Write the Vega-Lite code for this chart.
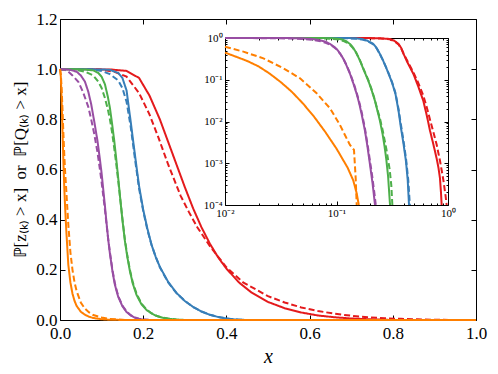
{
"$schema": "https://vega.github.io/schema/vega-lite/v6.json",
"width": 416, "height": 301,
"autosize": {"type": "none"},
"padding": {"left": 60, "top": 19, "right": 22, "bottom": 54},
"background": "white",
"config": {"font": "Liberation Serif", "view": {"stroke": null}, "axis": {"grid": false, "domainColor": "black", "tickColor": "black", "labelColor": "black", "titleColor": "black", "labelFont": "Liberation Serif", "titleFont": "Liberation Serif", "titleFontWeight": "normal", "labelFlush": false, "labelOverlap": false, "domainWidth": 1, "tickWidth": 1}},
"datasets": {
"main": [
{"series":"A","kind":"theory","x":0,"p":1},{"series":"A","kind":"theory","x":0.12,"p":0.999},{"series":"A","kind":"theory","x":0.16,"p":0.993},{"series":"A","kind":"theory","x":0.19,"p":0.965},{"series":"A","kind":"theory","x":0.215,"p":0.895},{"series":"A","kind":"theory","x":0.24,"p":0.8},{"series":"A","kind":"theory","x":0.26,"p":0.71},{"series":"A","kind":"theory","x":0.28,"p":0.62},{"series":"A","kind":"theory","x":0.3,"p":0.53},{"series":"A","kind":"theory","x":0.32,"p":0.445},{"series":"A","kind":"theory","x":0.34,"p":0.37},{"series":"A","kind":"theory","x":0.36,"p":0.305},{"series":"A","kind":"theory","x":0.38,"p":0.25},{"series":"A","kind":"theory","x":0.4,"p":0.205},{"series":"A","kind":"theory","x":0.43,"p":0.15},{"series":"A","kind":"theory","x":0.46,"p":0.11},{"series":"A","kind":"theory","x":0.5,"p":0.072},{"series":"A","kind":"theory","x":0.54,"p":0.047},{"series":"A","kind":"theory","x":0.58,"p":0.03},{"series":"A","kind":"theory","x":0.62,"p":0.018},{"series":"A","kind":"theory","x":0.66,"p":0.011},{"series":"A","kind":"theory","x":0.7,"p":0.006},{"series":"A","kind":"theory","x":0.75,"p":0.0025},{"series":"A","kind":"theory","x":0.8,"p":0},{"series":"A","kind":"theory","x":1,"p":0},
{"series":"A","kind":"simulation","x":0,"p":1},{"series":"A","kind":"simulation","x":0.1,"p":0.998},{"series":"A","kind":"simulation","x":0.13,"p":0.99},{"series":"A","kind":"simulation","x":0.16,"p":0.97},{"series":"A","kind":"simulation","x":0.19,"p":0.905},{"series":"A","kind":"simulation","x":0.215,"p":0.82},{"series":"A","kind":"simulation","x":0.236,"p":0.73},{"series":"A","kind":"simulation","x":0.26,"p":0.62},{"series":"A","kind":"simulation","x":0.29,"p":0.495},{"series":"A","kind":"simulation","x":0.31,"p":0.43},{"series":"A","kind":"simulation","x":0.33,"p":0.37},{"series":"A","kind":"simulation","x":0.36,"p":0.295},{"series":"A","kind":"simulation","x":0.4,"p":0.21},{"series":"A","kind":"simulation","x":0.44,"p":0.15},{"series":"A","kind":"simulation","x":0.5,"p":0.095},{"series":"A","kind":"simulation","x":0.54,"p":0.07},{"series":"A","kind":"simulation","x":0.58,"p":0.05},{"series":"A","kind":"simulation","x":0.62,"p":0.036},{"series":"A","kind":"simulation","x":0.66,"p":0.025},{"series":"A","kind":"simulation","x":0.7,"p":0.017},{"series":"A","kind":"simulation","x":0.74,"p":0.011},{"series":"A","kind":"simulation","x":0.78,"p":0.007},{"series":"A","kind":"simulation","x":0.82,"p":0.0045},{"series":"A","kind":"simulation","x":0.86,"p":0.0025},{"series":"A","kind":"simulation","x":0.9,"p":0.001},{"series":"A","kind":"simulation","x":0.95,"p":0},{"series":"A","kind":"simulation","x":1,"p":0},
{"series":"B","kind":"theory","x":0,"p":1},{"series":"B","kind":"theory","x":0.1,"p":0.999},{"series":"B","kind":"theory","x":0.12,"p":0.997},{"series":"B","kind":"theory","x":0.14,"p":0.985},{"series":"B","kind":"theory","x":0.15,"p":0.965},{"series":"B","kind":"theory","x":0.16,"p":0.915},{"series":"B","kind":"theory","x":0.17,"p":0.79},{"series":"B","kind":"theory","x":0.18,"p":0.66},{"series":"B","kind":"theory","x":0.19,"p":0.535},{"series":"B","kind":"theory","x":0.2,"p":0.44},{"series":"B","kind":"theory","x":0.21,"p":0.365},{"series":"B","kind":"theory","x":0.22,"p":0.3},{"series":"B","kind":"theory","x":0.23,"p":0.252},{"series":"B","kind":"theory","x":0.24,"p":0.212},{"series":"B","kind":"theory","x":0.26,"p":0.152},{"series":"B","kind":"theory","x":0.28,"p":0.108},{"series":"B","kind":"theory","x":0.3,"p":0.076},{"series":"B","kind":"theory","x":0.32,"p":0.052},{"series":"B","kind":"theory","x":0.34,"p":0.034},{"series":"B","kind":"theory","x":0.36,"p":0.021},{"series":"B","kind":"theory","x":0.38,"p":0.012},{"series":"B","kind":"theory","x":0.4,"p":0.006},{"series":"B","kind":"theory","x":0.42,"p":0.002},{"series":"B","kind":"theory","x":0.45,"p":0},{"series":"B","kind":"theory","x":1,"p":0},
{"series":"B","kind":"simulation","x":0,"p":1},{"series":"B","kind":"simulation","x":0.08,"p":0.998},{"series":"B","kind":"simulation","x":0.1,"p":0.993},{"series":"B","kind":"simulation","x":0.12,"p":0.98},{"series":"B","kind":"simulation","x":0.14,"p":0.955},{"series":"B","kind":"simulation","x":0.15,"p":0.925},{"series":"B","kind":"simulation","x":0.16,"p":0.87},{"series":"B","kind":"simulation","x":0.17,"p":0.77},{"series":"B","kind":"simulation","x":0.18,"p":0.645},{"series":"B","kind":"simulation","x":0.19,"p":0.525},{"series":"B","kind":"simulation","x":0.2,"p":0.435},{"series":"B","kind":"simulation","x":0.21,"p":0.36},{"series":"B","kind":"simulation","x":0.22,"p":0.3},{"series":"B","kind":"simulation","x":0.23,"p":0.252},{"series":"B","kind":"simulation","x":0.24,"p":0.21},{"series":"B","kind":"simulation","x":0.26,"p":0.15},{"series":"B","kind":"simulation","x":0.28,"p":0.107},{"series":"B","kind":"simulation","x":0.3,"p":0.076},{"series":"B","kind":"simulation","x":0.32,"p":0.052},{"series":"B","kind":"simulation","x":0.34,"p":0.034},{"series":"B","kind":"simulation","x":0.36,"p":0.021},{"series":"B","kind":"simulation","x":0.38,"p":0.012},{"series":"B","kind":"simulation","x":0.4,"p":0.006},{"series":"B","kind":"simulation","x":0.42,"p":0.0025},{"series":"B","kind":"simulation","x":0.45,"p":0},{"series":"B","kind":"simulation","x":1,"p":0},
{"series":"C","kind":"theory","x":0,"p":1},{"series":"C","kind":"theory","x":0.06,"p":0.999},{"series":"C","kind":"theory","x":0.08,"p":0.995},{"series":"C","kind":"theory","x":0.092,"p":0.985},{"series":"C","kind":"theory","x":0.1,"p":0.97},{"series":"C","kind":"theory","x":0.108,"p":0.94},{"series":"C","kind":"theory","x":0.115,"p":0.89},{"series":"C","kind":"theory","x":0.12,"p":0.845},{"series":"C","kind":"theory","x":0.125,"p":0.785},{"series":"C","kind":"theory","x":0.13,"p":0.72},{"series":"C","kind":"theory","x":0.135,"p":0.645},{"series":"C","kind":"theory","x":0.14,"p":0.565},{"series":"C","kind":"theory","x":0.145,"p":0.48},{"series":"C","kind":"theory","x":0.15,"p":0.4},{"series":"C","kind":"theory","x":0.156,"p":0.315},{"series":"C","kind":"theory","x":0.162,"p":0.25},{"series":"C","kind":"theory","x":0.168,"p":0.195},{"series":"C","kind":"theory","x":0.175,"p":0.145},{"series":"C","kind":"theory","x":0.184,"p":0.1},{"series":"C","kind":"theory","x":0.196,"p":0.062},{"series":"C","kind":"theory","x":0.208,"p":0.04},{"series":"C","kind":"theory","x":0.22,"p":0.026},{"series":"C","kind":"theory","x":0.232,"p":0.016},{"series":"C","kind":"theory","x":0.244,"p":0.01},{"series":"C","kind":"theory","x":0.26,"p":0.005},{"series":"C","kind":"theory","x":0.28,"p":0.0015},{"series":"C","kind":"theory","x":0.3,"p":0},{"series":"C","kind":"theory","x":1,"p":0},
{"series":"C","kind":"simulation","x":0,"p":1},{"series":"C","kind":"simulation","x":0.04,"p":0.997},{"series":"C","kind":"simulation","x":0.06,"p":0.99},{"series":"C","kind":"simulation","x":0.08,"p":0.975},{"series":"C","kind":"simulation","x":0.092,"p":0.95},{"series":"C","kind":"simulation","x":0.1,"p":0.925},{"series":"C","kind":"simulation","x":0.108,"p":0.885},{"series":"C","kind":"simulation","x":0.115,"p":0.84},{"series":"C","kind":"simulation","x":0.12,"p":0.8},{"series":"C","kind":"simulation","x":0.125,"p":0.75},{"series":"C","kind":"simulation","x":0.13,"p":0.69},{"series":"C","kind":"simulation","x":0.135,"p":0.625},{"series":"C","kind":"simulation","x":0.14,"p":0.555},{"series":"C","kind":"simulation","x":0.145,"p":0.48},{"series":"C","kind":"simulation","x":0.15,"p":0.405},{"series":"C","kind":"simulation","x":0.156,"p":0.32},{"series":"C","kind":"simulation","x":0.162,"p":0.255},{"series":"C","kind":"simulation","x":0.168,"p":0.2},{"series":"C","kind":"simulation","x":0.175,"p":0.15},{"series":"C","kind":"simulation","x":0.184,"p":0.105},{"series":"C","kind":"simulation","x":0.196,"p":0.065},{"series":"C","kind":"simulation","x":0.208,"p":0.042},{"series":"C","kind":"simulation","x":0.22,"p":0.027},{"series":"C","kind":"simulation","x":0.232,"p":0.017},{"series":"C","kind":"simulation","x":0.244,"p":0.011},{"series":"C","kind":"simulation","x":0.26,"p":0.006},{"series":"C","kind":"simulation","x":0.28,"p":0.002},{"series":"C","kind":"simulation","x":0.3,"p":0},{"series":"C","kind":"simulation","x":1,"p":0},
{"series":"D","kind":"theory","x":0,"p":1},{"series":"D","kind":"theory","x":0.02,"p":0.999},{"series":"D","kind":"theory","x":0.04,"p":0.99},{"series":"D","kind":"theory","x":0.05,"p":0.975},{"series":"D","kind":"theory","x":0.06,"p":0.95},{"series":"D","kind":"theory","x":0.068,"p":0.91},{"series":"D","kind":"theory","x":0.075,"p":0.86},{"series":"D","kind":"theory","x":0.0825,"p":0.79},{"series":"D","kind":"theory","x":0.09,"p":0.715},{"series":"D","kind":"theory","x":0.096,"p":0.64},{"series":"D","kind":"theory","x":0.1,"p":0.585},{"series":"D","kind":"theory","x":0.104,"p":0.52},{"series":"D","kind":"theory","x":0.108,"p":0.455},{"series":"D","kind":"theory","x":0.112,"p":0.385},{"series":"D","kind":"theory","x":0.116,"p":0.32},{"series":"D","kind":"theory","x":0.12,"p":0.265},{"series":"D","kind":"theory","x":0.126,"p":0.195},{"series":"D","kind":"theory","x":0.132,"p":0.14},{"series":"D","kind":"theory","x":0.14,"p":0.092},{"series":"D","kind":"theory","x":0.15,"p":0.055},{"series":"D","kind":"theory","x":0.16,"p":0.032},{"series":"D","kind":"theory","x":0.17,"p":0.018},{"series":"D","kind":"theory","x":0.18,"p":0.009},{"series":"D","kind":"theory","x":0.19,"p":0.004},{"series":"D","kind":"theory","x":0.2,"p":0.0015},{"series":"D","kind":"theory","x":0.22,"p":0},{"series":"D","kind":"theory","x":1,"p":0},
{"series":"D","kind":"simulation","x":0,"p":1},{"series":"D","kind":"simulation","x":0.01,"p":0.998},{"series":"D","kind":"simulation","x":0.02,"p":0.99},{"series":"D","kind":"simulation","x":0.03,"p":0.975},{"series":"D","kind":"simulation","x":0.044,"p":0.95},{"series":"D","kind":"simulation","x":0.055,"p":0.91},{"series":"D","kind":"simulation","x":0.068,"p":0.85},{"series":"D","kind":"simulation","x":0.075,"p":0.8},{"series":"D","kind":"simulation","x":0.0825,"p":0.74},{"series":"D","kind":"simulation","x":0.09,"p":0.67},{"series":"D","kind":"simulation","x":0.096,"p":0.6},{"series":"D","kind":"simulation","x":0.1,"p":0.55},{"series":"D","kind":"simulation","x":0.104,"p":0.495},{"series":"D","kind":"simulation","x":0.108,"p":0.44},{"series":"D","kind":"simulation","x":0.112,"p":0.38},{"series":"D","kind":"simulation","x":0.116,"p":0.32},{"series":"D","kind":"simulation","x":0.12,"p":0.27},{"series":"D","kind":"simulation","x":0.126,"p":0.2},{"series":"D","kind":"simulation","x":0.132,"p":0.145},{"series":"D","kind":"simulation","x":0.14,"p":0.095},{"series":"D","kind":"simulation","x":0.15,"p":0.058},{"series":"D","kind":"simulation","x":0.16,"p":0.034},{"series":"D","kind":"simulation","x":0.17,"p":0.019},{"series":"D","kind":"simulation","x":0.18,"p":0.01},{"series":"D","kind":"simulation","x":0.19,"p":0.005},{"series":"D","kind":"simulation","x":0.2,"p":0.002},{"series":"D","kind":"simulation","x":0.22,"p":0},{"series":"D","kind":"simulation","x":1,"p":0},
{"series":"E","kind":"theory","x":0,"p":1},{"series":"E","kind":"theory","x":0.002,"p":0.97},{"series":"E","kind":"theory","x":0.004,"p":0.87},{"series":"E","kind":"theory","x":0.006,"p":0.75},{"series":"E","kind":"theory","x":0.008,"p":0.64},{"series":"E","kind":"theory","x":0.01,"p":0.54},{"series":"E","kind":"theory","x":0.012,"p":0.46},{"series":"E","kind":"theory","x":0.015,"p":0.36},{"series":"E","kind":"theory","x":0.02,"p":0.22},{"series":"E","kind":"theory","x":0.025,"p":0.15},{"series":"E","kind":"theory","x":0.03,"p":0.105},{"series":"E","kind":"theory","x":0.035,"p":0.076},{"series":"E","kind":"theory","x":0.04,"p":0.056},{"series":"E","kind":"theory","x":0.05,"p":0.033},{"series":"E","kind":"theory","x":0.06,"p":0.021},{"series":"E","kind":"theory","x":0.07,"p":0.013},{"series":"E","kind":"theory","x":0.08,"p":0.008},{"series":"E","kind":"theory","x":0.1,"p":0.003},{"series":"E","kind":"theory","x":0.12,"p":0.001},{"series":"E","kind":"theory","x":0.16,"p":0},{"series":"E","kind":"theory","x":1,"p":0},
{"series":"E","kind":"simulation","x":0,"p":1},{"series":"E","kind":"simulation","x":0.002,"p":0.98},{"series":"E","kind":"simulation","x":0.004,"p":0.92},{"series":"E","kind":"simulation","x":0.006,"p":0.84},{"series":"E","kind":"simulation","x":0.008,"p":0.75},{"series":"E","kind":"simulation","x":0.01,"p":0.67},{"series":"E","kind":"simulation","x":0.012,"p":0.6},{"series":"E","kind":"simulation","x":0.015,"p":0.52},{"series":"E","kind":"simulation","x":0.02,"p":0.38},{"series":"E","kind":"simulation","x":0.025,"p":0.27},{"series":"E","kind":"simulation","x":0.03,"p":0.2},{"series":"E","kind":"simulation","x":0.035,"p":0.15},{"series":"E","kind":"simulation","x":0.04,"p":0.115},{"series":"E","kind":"simulation","x":0.05,"p":0.07},{"series":"E","kind":"simulation","x":0.06,"p":0.045},{"series":"E","kind":"simulation","x":0.07,"p":0.03},{"series":"E","kind":"simulation","x":0.08,"p":0.02},{"series":"E","kind":"simulation","x":0.1,"p":0.01},{"series":"E","kind":"simulation","x":0.12,"p":0.004},{"series":"E","kind":"simulation","x":0.15,"p":0.001},{"series":"E","kind":"simulation","x":0.16,"p":0},{"series":"E","kind":"simulation","x":1,"p":0}
],
"inset": [
{"series":"A","kind":"theory","x":0.01,"p":1},{"series":"A","kind":"theory","x":0.15,"p":0.999},{"series":"A","kind":"theory","x":0.2,"p":0.995},{"series":"A","kind":"theory","x":0.25,"p":0.98},{"series":"A","kind":"theory","x":0.3,"p":0.95},{"series":"A","kind":"theory","x":0.33,"p":0.86},{"series":"A","kind":"theory","x":0.36,"p":0.72},{"series":"A","kind":"theory","x":0.38,"p":0.58},{"series":"A","kind":"theory","x":0.4,"p":0.414},{"series":"A","kind":"theory","x":0.43,"p":0.27},{"series":"A","kind":"theory","x":0.46,"p":0.19},{"series":"A","kind":"theory","x":0.49,"p":0.137},{"series":"A","kind":"theory","x":0.54,"p":0.07},{"series":"A","kind":"theory","x":0.6,"p":0.0315},{"series":"A","kind":"theory","x":0.645,"p":0.014},{"series":"A","kind":"theory","x":0.69,"p":0.006},{"series":"A","kind":"theory","x":0.74,"p":0.0028},{"series":"A","kind":"theory","x":0.791,"p":0.0013},{"series":"A","kind":"theory","x":0.82,"p":0.0008},{"series":"A","kind":"theory","x":0.847,"p":0.00044},{"series":"A","kind":"theory","x":0.865,"p":0.0002},{"series":"A","kind":"theory","x":0.877,"p":0.0001},
{"series":"A","kind":"simulation","x":0.01,"p":0.999},{"series":"A","kind":"simulation","x":0.15,"p":0.997},{"series":"A","kind":"simulation","x":0.2,"p":0.99},{"series":"A","kind":"simulation","x":0.25,"p":0.97},{"series":"A","kind":"simulation","x":0.3,"p":0.93},{"series":"A","kind":"simulation","x":0.33,"p":0.84},{"series":"A","kind":"simulation","x":0.36,"p":0.7},{"series":"A","kind":"simulation","x":0.38,"p":0.57},{"series":"A","kind":"simulation","x":0.4,"p":0.42},{"series":"A","kind":"simulation","x":0.43,"p":0.29},{"series":"A","kind":"simulation","x":0.46,"p":0.205},{"series":"A","kind":"simulation","x":0.49,"p":0.15},{"series":"A","kind":"simulation","x":0.54,"p":0.085},{"series":"A","kind":"simulation","x":0.6,"p":0.042},{"series":"A","kind":"simulation","x":0.645,"p":0.022},{"series":"A","kind":"simulation","x":0.69,"p":0.011},{"series":"A","kind":"simulation","x":0.74,"p":0.0055},{"series":"A","kind":"simulation","x":0.791,"p":0.0028},{"series":"A","kind":"simulation","x":0.85,"p":0.0011},{"series":"A","kind":"simulation","x":0.908,"p":0.0004},{"series":"A","kind":"simulation","x":0.95,"p":0.00017},{"series":"A","kind":"simulation","x":0.973,"p":0.0001},
{"series":"B","kind":"theory","x":0.01,"p":1},{"series":"B","kind":"theory","x":0.1,"p":0.999},{"series":"B","kind":"theory","x":0.13,"p":0.995},{"series":"B","kind":"theory","x":0.15,"p":0.98},{"series":"B","kind":"theory","x":0.168,"p":0.95},{"series":"B","kind":"theory","x":0.19,"p":0.86},{"series":"B","kind":"theory","x":0.214,"p":0.72},{"series":"B","kind":"theory","x":0.23,"p":0.57},{"series":"B","kind":"theory","x":0.245,"p":0.414},{"series":"B","kind":"theory","x":0.26,"p":0.3},{"series":"B","kind":"theory","x":0.278,"p":0.198},{"series":"B","kind":"theory","x":0.294,"p":0.137},{"series":"B","kind":"theory","x":0.315,"p":0.085},{"series":"B","kind":"theory","x":0.338,"p":0.0456},{"series":"B","kind":"theory","x":0.36,"p":0.018},{"series":"B","kind":"theory","x":0.378,"p":0.0072},{"series":"B","kind":"theory","x":0.4,"p":0.0028},{"series":"B","kind":"theory","x":0.42,"p":0.0011},{"series":"B","kind":"theory","x":0.435,"p":0.0004},{"series":"B","kind":"theory","x":0.447,"p":0.0001},
{"series":"B","kind":"simulation","x":0.01,"p":0.999},{"series":"B","kind":"simulation","x":0.08,"p":0.997},{"series":"B","kind":"simulation","x":0.1,"p":0.993},{"series":"B","kind":"simulation","x":0.13,"p":0.98},{"series":"B","kind":"simulation","x":0.15,"p":0.96},{"series":"B","kind":"simulation","x":0.168,"p":0.925},{"series":"B","kind":"simulation","x":0.19,"p":0.84},{"series":"B","kind":"simulation","x":0.214,"p":0.7},{"series":"B","kind":"simulation","x":0.23,"p":0.555},{"series":"B","kind":"simulation","x":0.245,"p":0.41},{"series":"B","kind":"simulation","x":0.26,"p":0.3},{"series":"B","kind":"simulation","x":0.278,"p":0.2},{"series":"B","kind":"simulation","x":0.294,"p":0.14},{"series":"B","kind":"simulation","x":0.315,"p":0.088},{"series":"B","kind":"simulation","x":0.338,"p":0.048},{"series":"B","kind":"simulation","x":0.36,"p":0.02},{"series":"B","kind":"simulation","x":0.378,"p":0.0085},{"series":"B","kind":"simulation","x":0.4,"p":0.0033},{"series":"B","kind":"simulation","x":0.42,"p":0.0013},{"series":"B","kind":"simulation","x":0.44,"p":0.0004},{"series":"B","kind":"simulation","x":0.455,"p":0.0001},
{"series":"C","kind":"theory","x":0.01,"p":1},{"series":"C","kind":"theory","x":0.06,"p":0.999},{"series":"C","kind":"theory","x":0.08,"p":0.993},{"series":"C","kind":"theory","x":0.09,"p":0.985},{"series":"C","kind":"theory","x":0.1,"p":0.97},{"series":"C","kind":"theory","x":0.108,"p":0.94},{"series":"C","kind":"theory","x":0.115,"p":0.9},{"series":"C","kind":"theory","x":0.122,"p":0.84},{"series":"C","kind":"theory","x":0.132,"p":0.72},{"series":"C","kind":"theory","x":0.14,"p":0.6},{"series":"C","kind":"theory","x":0.15,"p":0.45},{"series":"C","kind":"theory","x":0.1625,"p":0.286},{"series":"C","kind":"theory","x":0.175,"p":0.175},{"series":"C","kind":"theory","x":0.1928,"p":0.095},{"series":"C","kind":"theory","x":0.205,"p":0.06},{"series":"C","kind":"theory","x":0.221,"p":0.0316},{"series":"C","kind":"theory","x":0.233,"p":0.018},{"series":"C","kind":"theory","x":0.245,"p":0.0105},{"series":"C","kind":"theory","x":0.259,"p":0.005},{"series":"C","kind":"theory","x":0.27,"p":0.0025},{"series":"C","kind":"theory","x":0.28,"p":0.0012},{"series":"C","kind":"theory","x":0.29,"p":0.0005},{"series":"C","kind":"theory","x":0.302,"p":0.0001},
{"series":"C","kind":"simulation","x":0.01,"p":0.999},{"series":"C","kind":"simulation","x":0.04,"p":0.997},{"series":"C","kind":"simulation","x":0.06,"p":0.99},{"series":"C","kind":"simulation","x":0.08,"p":0.975},{"series":"C","kind":"simulation","x":0.09,"p":0.96},{"series":"C","kind":"simulation","x":0.1,"p":0.93},{"series":"C","kind":"simulation","x":0.108,"p":0.89},{"series":"C","kind":"simulation","x":0.115,"p":0.85},{"series":"C","kind":"simulation","x":0.122,"p":0.79},{"series":"C","kind":"simulation","x":0.132,"p":0.69},{"series":"C","kind":"simulation","x":0.14,"p":0.585},{"series":"C","kind":"simulation","x":0.15,"p":0.445},{"series":"C","kind":"simulation","x":0.1625,"p":0.29},{"series":"C","kind":"simulation","x":0.175,"p":0.18},{"series":"C","kind":"simulation","x":0.193,"p":0.098},{"series":"C","kind":"simulation","x":0.205,"p":0.062},{"series":"C","kind":"simulation","x":0.221,"p":0.033},{"series":"C","kind":"simulation","x":0.233,"p":0.019},{"series":"C","kind":"simulation","x":0.245,"p":0.012},{"series":"C","kind":"simulation","x":0.26,"p":0.006},{"series":"C","kind":"simulation","x":0.28,"p":0.0022},{"series":"C","kind":"simulation","x":0.3,"p":0.0007},{"series":"C","kind":"simulation","x":0.31,"p":0.0003},{"series":"C","kind":"simulation","x":0.317,"p":0.0001},
{"series":"D","kind":"theory","x":0.01,"p":1},{"series":"D","kind":"theory","x":0.03,"p":0.999},{"series":"D","kind":"theory","x":0.04,"p":0.993},{"series":"D","kind":"theory","x":0.05,"p":0.98},{"series":"D","kind":"theory","x":0.06,"p":0.95},{"series":"D","kind":"theory","x":0.07,"p":0.89},{"series":"D","kind":"theory","x":0.08,"p":0.81},{"series":"D","kind":"theory","x":0.0875,"p":0.72},{"series":"D","kind":"theory","x":0.095,"p":0.62},{"series":"D","kind":"theory","x":0.1,"p":0.55},{"series":"D","kind":"theory","x":0.1075,"p":0.43},{"series":"D","kind":"theory","x":0.115,"p":0.32},{"series":"D","kind":"theory","x":0.122,"p":0.23},{"series":"D","kind":"theory","x":0.132,"p":0.14},{"series":"D","kind":"theory","x":0.142,"p":0.08},{"series":"D","kind":"theory","x":0.152,"p":0.045},{"series":"D","kind":"theory","x":0.16,"p":0.027},{"series":"D","kind":"theory","x":0.168,"p":0.015},{"series":"D","kind":"theory","x":0.18,"p":0.006},{"series":"D","kind":"theory","x":0.19,"p":0.0024},{"series":"D","kind":"theory","x":0.2,"p":0.0009},{"series":"D","kind":"theory","x":0.21,"p":0.00035},{"series":"D","kind":"theory","x":0.2215,"p":0.0001},
{"series":"D","kind":"simulation","x":0.01,"p":0.999},{"series":"D","kind":"simulation","x":0.02,"p":0.993},{"series":"D","kind":"simulation","x":0.03,"p":0.983},{"series":"D","kind":"simulation","x":0.04,"p":0.97},{"series":"D","kind":"simulation","x":0.05,"p":0.95},{"series":"D","kind":"simulation","x":0.06,"p":0.91},{"series":"D","kind":"simulation","x":0.07,"p":0.85},{"series":"D","kind":"simulation","x":0.08,"p":0.77},{"series":"D","kind":"simulation","x":0.0875,"p":0.69},{"series":"D","kind":"simulation","x":0.095,"p":0.6},{"series":"D","kind":"simulation","x":0.1,"p":0.535},{"series":"D","kind":"simulation","x":0.1075,"p":0.425},{"series":"D","kind":"simulation","x":0.115,"p":0.32},{"series":"D","kind":"simulation","x":0.122,"p":0.235},{"series":"D","kind":"simulation","x":0.132,"p":0.145},{"series":"D","kind":"simulation","x":0.142,"p":0.085},{"series":"D","kind":"simulation","x":0.152,"p":0.048},{"series":"D","kind":"simulation","x":0.16,"p":0.029},{"series":"D","kind":"simulation","x":0.168,"p":0.017},{"series":"D","kind":"simulation","x":0.18,"p":0.0068},{"series":"D","kind":"simulation","x":0.19,"p":0.0028},{"series":"D","kind":"simulation","x":0.2,"p":0.0011},{"series":"D","kind":"simulation","x":0.21,"p":0.00045},{"series":"D","kind":"simulation","x":0.22,"p":0.00017},{"series":"D","kind":"simulation","x":0.225,"p":0.0001},
{"series":"E","kind":"theory","x":0.01,"p":0.447},{"series":"E","kind":"theory","x":0.0126,"p":0.355},{"series":"E","kind":"theory","x":0.0158,"p":0.282},{"series":"E","kind":"theory","x":0.02,"p":0.209},{"series":"E","kind":"theory","x":0.0251,"p":0.141},{"series":"E","kind":"theory","x":0.0316,"p":0.088},{"series":"E","kind":"theory","x":0.0398,"p":0.0513},{"series":"E","kind":"theory","x":0.0501,"p":0.0269},{"series":"E","kind":"theory","x":0.0631,"p":0.0129},{"series":"E","kind":"theory","x":0.0794,"p":0.0056},{"series":"E","kind":"theory","x":0.1,"p":0.00224},{"series":"E","kind":"theory","x":0.1259,"p":0.00078},{"series":"E","kind":"theory","x":0.1413,"p":0.00039},{"series":"E","kind":"theory","x":0.1514,"p":0.000195},{"series":"E","kind":"theory","x":0.1585,"p":0.0001},
{"series":"E","kind":"simulation","x":0.01,"p":0.62},{"series":"E","kind":"simulation","x":0.0146,"p":0.471},{"series":"E","kind":"simulation","x":0.0221,"p":0.326},{"series":"E","kind":"simulation","x":0.0334,"p":0.188},{"series":"E","kind":"simulation","x":0.0471,"p":0.108},{"series":"E","kind":"simulation","x":0.0664,"p":0.0473},{"series":"E","kind":"simulation","x":0.0875,"p":0.0207},{"series":"E","kind":"simulation","x":0.1075,"p":0.0082},{"series":"E","kind":"simulation","x":0.119,"p":0.00475},{"series":"E","kind":"simulation","x":0.132,"p":0.00274},{"series":"E","kind":"simulation","x":0.1435,"p":0.00208},{"series":"E","kind":"simulation","x":0.1486,"p":0.00044},{"series":"E","kind":"simulation","x":0.1518,"p":0.0001}
]
},
"layer": [
{
"data": {"name": "main"},
"layer": [
{"mark": {"type": "line", "strokeWidth": 2},
"encoding": {
"x": {"field": "x", "type": "quantitative", "scale": {"domain": [0, 1], "nice": false}, "axis": {"orient": "bottom", "values": [0, 0.2, 0.4, 0.6, 0.8, 1], "format": ".1f", "tickSize": -5, "labelPadding": 10, "labelFontSize": 17, "title": "x", "titleFontSize": 20, "titleFontStyle": "italic", "titlePadding": 5}},
"y": {"field": "p", "type": "quantitative", "scale": {"domain": [0, 1.2], "nice": false}, "axis": {"orient": "left", "values": [0, 0.2, 0.4, 0.6, 0.8, 1, 1.2], "format": ".1f", "tickSize": -5, "labelPadding": 8, "labelFontSize": 17, "title": "ℙ[z₍ₖ₎ > x]\u2002or\u2002ℙ[Q₍ₖ₎ > x]", "titleFontSize": 17, "titlePadding": 6}},
"color": {"field": "series", "type": "nominal", "scale": {"domain": ["A", "B", "C", "D", "E"], "range": ["#e41a1c", "#377eb8", "#4daf4a", "#984ea3", "#ff7f00"]}, "legend": null},
"strokeDash": {"field": "kind", "type": "nominal", "scale": {"domain": ["theory", "simulation"], "range": [[1, 0], [6, 3]]}, "legend": null}
}},
{"mark": {"type": "line", "opacity": 0},
"encoding": {
"x": {"field": "x", "type": "quantitative", "axis": {"orient": "top", "values": [0, 0.2, 0.4, 0.6, 0.8, 1], "labels": false, "tickSize": -5, "title": null}},
"y": {"field": "p", "type": "quantitative", "axis": {"orient": "right", "values": [0, 0.2, 0.4, 0.6, 0.8, 1, 1.2], "labels": false, "tickSize": -5, "title": null}}
}}
],
"resolve": {"axis": {"x": "independent", "y": "independent"}}
},
{
"data": {"name": "inset"},
"layer": [
{"mark": {"type": "line", "strokeWidth": 2},
"encoding": {
"x": {"field": "x", "type": "quantitative", "scale": {"type": "log", "domain": [0.01, 1], "range": [165, 388], "nice": false}, "axis": {"orient": "bottom", "offset": -115, "values": [0.01, 0.1, 1], "labelExpr": "'10' + ['⁰','⁻¹','⁻²'][-round(log(datum.value)/LN10)]", "tickSize": -4, "labelPadding": 6, "labelFontSize": 11, "title": null}},
"y": {"field": "p", "type": "quantitative", "scale": {"type": "log", "domain": [0.0001, 1], "range": [186, 19], "nice": false}, "axis": {"orient": "left", "offset": -165, "values": [0.0001, 0.001, 0.01, 0.1, 1], "labelExpr": "'10' + ['⁰','⁻¹','⁻²','⁻³','⁻⁴'][-round(log(datum.value)/LN10)]", "tickSize": -4, "labelPadding": 7, "labelFontSize": 11, "title": null}},
"color": {"field": "series", "type": "nominal", "legend": null},
"strokeDash": {"field": "kind", "type": "nominal", "legend": null}
}},
{"mark": {"type": "line", "opacity": 0},
"encoding": {
"x": {"field": "x", "type": "quantitative", "axis": {"orient": "top", "offset": -19, "values": [0.01, 0.1, 1], "labels": false, "tickSize": -4, "title": null}},
"y": {"field": "p", "type": "quantitative", "axis": {"orient": "right", "offset": -28, "values": [0.0001, 0.001, 0.01, 0.1, 1], "labels": false, "tickSize": -4, "title": null}}
}},
{"mark": {"type": "line", "opacity": 0},
"encoding": {
"x": {"field": "x", "type": "quantitative", "axis": {"orient": "bottom", "offset": -115, "domain": false, "values": [0.02, 0.03, 0.04, 0.05, 0.06, 0.07, 0.08, 0.09, 0.2, 0.3, 0.4, 0.5, 0.6, 0.7, 0.8, 0.9], "labels": false, "tickSize": -2, "title": null}},
"y": {"field": "p", "type": "quantitative", "axis": {"orient": "left", "offset": -165, "domain": false, "values": [0.0002, 0.0003, 0.0004, 0.0005, 0.0006, 0.0007, 0.0008, 0.0009, 0.002, 0.003, 0.004, 0.005, 0.006, 0.007, 0.008, 0.009, 0.02, 0.03, 0.04, 0.05, 0.06, 0.07, 0.08, 0.09, 0.2, 0.3, 0.4, 0.5, 0.6, 0.7, 0.8, 0.9], "labels": false, "tickSize": -2, "title": null}}
}},
{"mark": {"type": "line", "opacity": 0},
"encoding": {
"x": {"field": "x", "type": "quantitative", "axis": {"orient": "top", "offset": -19, "domain": false, "values": [0.02, 0.03, 0.04, 0.05, 0.06, 0.07, 0.08, 0.09, 0.2, 0.3, 0.4, 0.5, 0.6, 0.7, 0.8, 0.9], "labels": false, "tickSize": -2, "title": null}},
"y": {"field": "p", "type": "quantitative", "axis": {"orient": "right", "offset": -28, "domain": false, "values": [0.0002, 0.0003, 0.0004, 0.0005, 0.0006, 0.0007, 0.0008, 0.0009, 0.002, 0.003, 0.004, 0.005, 0.006, 0.007, 0.008, 0.009, 0.02, 0.03, 0.04, 0.05, 0.06, 0.07, 0.08, 0.09, 0.2, 0.3, 0.4, 0.5, 0.6, 0.7, 0.8, 0.9], "labels": false, "tickSize": -2, "title": null}}
}}
],
"resolve": {"axis": {"x": "independent", "y": "independent"}}
}
],
"resolve": {"scale": {"x": "independent", "y": "independent"}}
}
